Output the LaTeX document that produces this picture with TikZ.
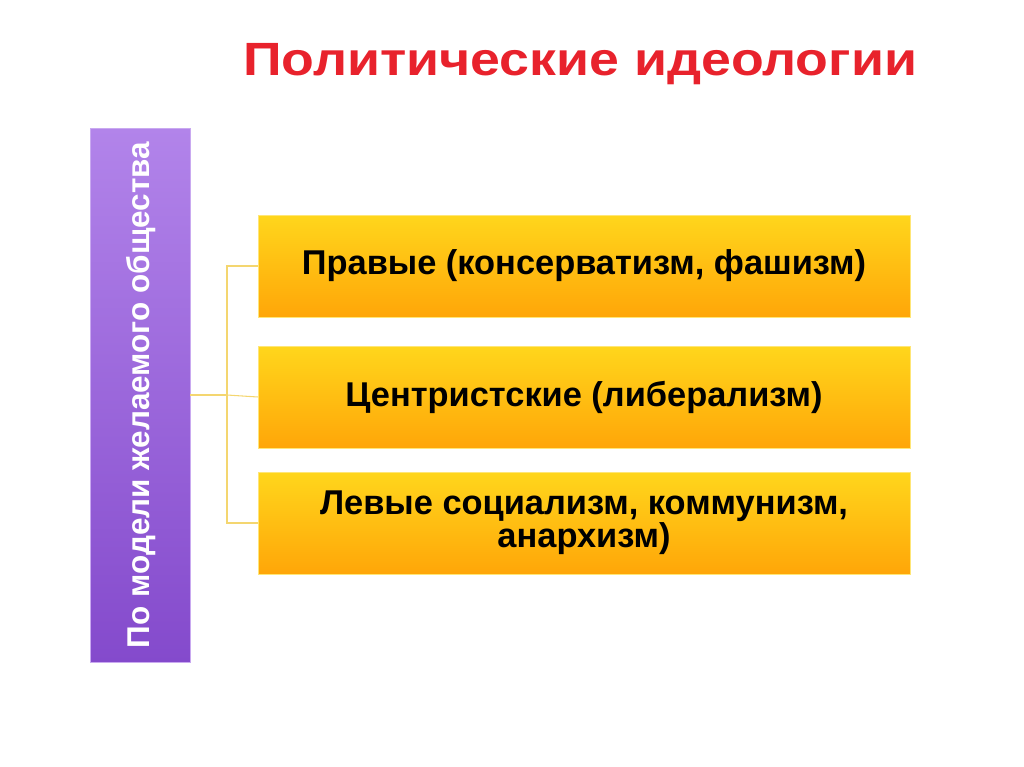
\documentclass[tikz,border=0pt]{standalone}
\usepackage{fontspec}
\setmainfont{Liberation Sans}
\usetikzlibrary{positioning,shadows}

\definecolor{titlered}{RGB}{232,34,44}
\definecolor{lilactop}{RGB}{178,132,234}
\definecolor{lilacbot}{RGB}{132,74,204}
\definecolor{goldtop}{RGB}{255,214,28}
\definecolor{goldbot}{RGB}{255,166,8}
\definecolor{forkline}{RGB}{244,214,112}

\begin{document}
\begin{tikzpicture}[x=0.75pt,y=-0.75pt,
  groupbox/.style={rectangle,minimum width=75pt,minimum height=400.5pt,
    top color=lilactop,bottom color=lilacbot,draw=lilactop!70!white,
    drop shadow={opacity=0.25,shadow xshift=1pt,shadow yshift=-1pt}},
  kindbox/.style={rectangle,minimum width=489pt,minimum height=76.5pt,
    top color=goldtop,bottom color=goldbot,draw=goldtop!60!white,
    align=center,font=\fontsize{25.8}{24.5}\selectfont\bfseries,
    drop shadow={opacity=0.2,shadow xshift=1pt,shadow yshift=-1pt}},
  fork/.style={draw=forkline,line width=0.8pt}]
\useasboundingbox (0,0) rectangle (1024,767);

% heading
\node[text=titlered,xscale=1.15,font=\fontsize{35}{38}\selectfont\bfseries] (title) at (580,64) {Политические идеологии};

% left bar
\node[groupbox] (model) at (140,395) {};
\node[rotate=90,text=white,font=\fontsize{23.6}{26}\selectfont\bfseries] (modeltext) at (141,395) {По модели желаемого общества};

% right column
\node[kindbox] (right) at (584,266) {Правые (консерватизм, фашизм)};
\node[kindbox] (centre) at (584,397) {Центристские (либерализм)};
\node[kindbox] (left) at (584,523) {Левые социализм, коммунизм,\\анархизм)};

% connectors
\coordinate (split) at (227,395);
\draw[fork,line width=1.3pt] (model.east) -- (split);
\draw[fork] (split) |- (right.west);
\draw[fork] (split) -- (centre.west);
\draw[fork] (split) |- (left.west);
\end{tikzpicture}
\end{document}
